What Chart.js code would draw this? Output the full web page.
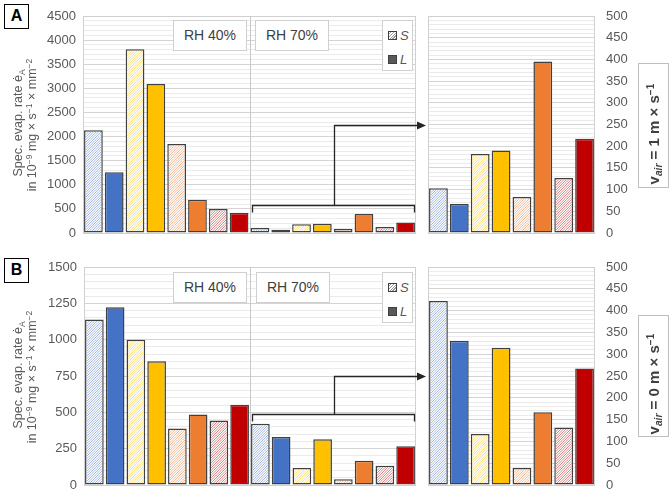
<!DOCTYPE html>
<html>
<head>
<meta charset="utf-8">
<script src="https://cdn.jsdelivr.net/npm/chart.js@4.4.0/dist/chart.umd.min.js"></script>
<style>
  body { margin: 0; background: #fff; font-family: "Liberation Sans", Arial, sans-serif; }
  #blatt { position: relative; width: 669px; height: 495px; overflow: hidden; }
  canvas { position: absolute; }
  .kasten { position: absolute; box-sizing: border-box; background: #fff; }
  .buchstabe { border: 1.5px solid #000; font-weight: bold; font-size: 16px; text-align: center; line-height: 22px; color: #000; }
  .rh { border: 1px solid #d0d0d0; font-size: 14px; color: #404040; text-align: center; line-height: 28px; }
  .legende { border: 1px solid #d0d0d0; font-size: 13px; color: #595959; font-style: italic; }
  .legende div { position: absolute; left: 5px; height: 14px; line-height: 14px; }
  .legende span.sw { display: inline-block; width: 7px; height: 7px; border: 1px solid #404040; margin-right: 3px; vertical-align: 0px; }
  .vair { border: 1px solid #bfbfbf; }
  .dreh { position: absolute; width: 200px; text-align: center; transform: rotate(-90deg); white-space: nowrap; }
  .titel { font-size: 12.5px; color: #595959; height: 16px; line-height: 16px; }
  .vtext { font-size: 15px; font-weight: bold; color: #404040; height: 18px; line-height: 18px; }
  sup, sub { font-size: 0.68em; position: relative; vertical-align: baseline; line-height: 0; }
  sup { top: -0.5em; }
  sub { top: 0.3em; }
</style>
</head>
<body>
<div id="blatt">
  <canvas id="aLinks" width="430" height="245" style="left:0;top:0"></canvas>
  <canvas id="aRechts" width="249" height="245" style="left:420px;top:0"></canvas>
  <canvas id="bLinks" width="430" height="245" style="left:0;top:250px"></canvas>
  <canvas id="bRechts" width="249" height="245" style="left:420px;top:250px"></canvas>

  <!-- Panel A -->
  <div class="kasten buchstabe" style="left:4px;top:4px;width:25px;height:25px">A</div>
  <div class="dreh titel" style="left:-82px;top:115px">Spec. evap. rate ė<sub>A</sub></div>
  <div class="dreh titel" style="left:-68px;top:117px">in 10<sup>−9</sup> mg × s<sup>−1</sup> × mm<sup>−2</sup></div>
  <div class="kasten rh" style="left:173px;top:20px;width:74px;height:31px">RH 40%</div>
  <div class="kasten rh" style="left:255px;top:20px;width:74px;height:31px">RH 70%</div>
  <div class="kasten legende" style="left:382px;top:20px;width:31px;height:51px">
    <div style="top:8px"><span class="sw" style="background:repeating-linear-gradient(135deg,#fff 0 1px,#9a9a9a 1px 2px)"></span>S</div>
    <div style="top:32px"><span class="sw" style="background:#595959"></span>L</div>
  </div>
  <div class="kasten vair" style="left:638px;top:63px;width:31px;height:125px"></div>
  <div class="dreh vtext" style="left:554px;top:125px">v<sub><i>air</i></sub> = 1 m × s<sup>−1</sup></div>

  <!-- Panel B -->
  <div class="kasten buchstabe" style="left:4px;top:258px;width:25px;height:25px">B</div>
  <div class="dreh titel" style="left:-82px;top:367px">Spec. evap. rate ė<sub>A</sub></div>
  <div class="dreh titel" style="left:-68px;top:369px">in 10<sup>−9</sup> mg × s<sup>−1</sup> × mm<sup>−2</sup></div>
  <div class="kasten rh" style="left:173px;top:272px;width:74px;height:31px">RH 40%</div>
  <div class="kasten rh" style="left:256px;top:272px;width:74px;height:31px">RH 70%</div>
  <div class="kasten legende" style="left:382px;top:272px;width:31px;height:51px">
    <div style="top:8px"><span class="sw" style="background:repeating-linear-gradient(135deg,#fff 0 1px,#9a9a9a 1px 2px)"></span>S</div>
    <div style="top:32px"><span class="sw" style="background:#595959"></span>L</div>
  </div>
  <div class="kasten vair" style="left:638px;top:315px;width:31px;height:122px"></div>
  <div class="dreh vtext" style="left:554px;top:375px">v<sub><i>air</i></sub> = 0 m × s<sup>−1</sup></div>
</div>

<script>
// Proben: S = schraffiert, L = gefuellt
var proben = ["S", "L", "S", "L", "S", "L", "S", "L"];
var farben = ["#4472C4", "#4472C4", "#FFC000", "#FFC000", "#ED7D31", "#ED7D31", "#C00000", "#C00000"];
var schraffur = ["#9cb1dc", "#9cb1dc", "#ffdc70", "#ffdc70", "#f4b68e", "#f4b68e", "#d47c7c", "#d47c7c"];

// Panel A (v_air = 1 m/s)
var a40 = [2130, 1260, 3810, 3090, 1845, 690, 500, 420];
var a70 = [103, 67, 182, 190, 83, 395, 127, 217];
// Panel B (v_air = 0 m/s)
var b40 = [1138, 1223, 1000, 852, 389, 485, 444, 552];
var b70 = [422, 331, 117, 315, 39, 167, 132, 267];

// Achsenbeschriftungen
var ticksALinks = [0, 500, 1000, 1500, 2000, 2500, 3000, 3500, 4000, 4500];
var ticksBLinks = [0, 250, 500, 750, 1000, 1250, 1500];
var ticksRechts = [0, 50, 100, 150, 200, 250, 300, 350, 400, 450, 500];

function fuellung(n) {
  var f = [];
  for (var i = 0; i < n; i++) {
    var k = i % 8;
    f.push(proben[k] === "S" ? "#ffffff" : farben[k]);
  }
  return f;
}

// Rahmen, Trennlinie, Schraffur, Klammer und Pfeil
const rahmenPlugin = {
  id: "rahmen",
  beforeDatasetsDraw(chart, args, opts) {
    const ctx = chart.ctx;
    const a = chart.chartArea;
    const x = chart.scales.x;
    ctx.save();
    ctx.strokeStyle = "#d0d0d0";
    ctx.lineWidth = 1;
    ctx.strokeRect(Math.round(a.left) + 0.5, Math.round(a.top) + 0.5, Math.round(a.right - a.left) - 1, Math.round(a.bottom - a.top));
    if (opts.teiler) {
      const xt = Math.round((x.getPixelForValue(7) + x.getPixelForValue(8)) / 2) + 0.5;
      ctx.strokeStyle = "#c8c8c8";
      ctx.beginPath();
      ctx.moveTo(xt, a.top);
      ctx.lineTo(xt, a.bottom);
      ctx.stroke();
    }
    ctx.restore();
  },
  afterDatasetsDraw(chart, args, opts) {
    const ctx = chart.ctx;
    // Schraffur in die S-Balken zeichnen
    chart.getDatasetMeta(0).data.forEach(function (bar, i) {
      const k = i % 8;
      if (proben[k] !== "S") return;
      const p = bar.getProps(["x", "y", "base", "width"], true);
      const l = p.x - p.width / 2 + 1.5;
      const r = p.x + p.width / 2 - 1.5;
      const t = Math.min(p.y, p.base) + 1.5;
      const b = Math.max(p.y, p.base) - 1.5;
      if (b <= t) return;
      ctx.save();
      ctx.beginPath();
      ctx.rect(l, t, r - l, b - t);
      ctx.clip();
      ctx.strokeStyle = schraffur[k];
      ctx.lineWidth = 0.9;
      ctx.beginPath();
      for (let s = Math.floor(l - (b - t)); s < r + 1; s += 2.5) {
        ctx.moveTo(s, b + 1);
        ctx.lineTo(s + (b - t) + 2, t - 1);
      }
      ctx.stroke();
      ctx.restore();
    });

    if (opts.klammer == null) return;
    const x = chart.scales.x;
    const y = chart.scales.y;
    const cw = x.getPixelForValue(1) - x.getPixelForValue(0);
    const x1 = Math.round(x.getPixelForValue(8) - cw / 2 + 2) + 0.5;
    const x2 = Math.round(x.getPixelForValue(15) + cw / 2 - 2) + 0.5;
    const yk = Math.round(y.getPixelForValue(opts.klammer)) + 0.5;
    const yp = Math.round(y.getPixelForValue(opts.pfeil)) + 0.5;
    const xm = Math.round((x1 + x2) / 2) + 0.5;
    const ende = chart.width - 4;
    ctx.save();
    ctx.strokeStyle = "#262626";
    ctx.fillStyle = "#262626";
    ctx.lineWidth = 1.3;
    ctx.beginPath();
    ctx.moveTo(x1, yk + 7);
    ctx.lineTo(x1, yk);
    ctx.lineTo(x2, yk);
    ctx.lineTo(x2, yk + 7);
    ctx.moveTo(xm, yk);
    ctx.lineTo(xm, yp);
    ctx.lineTo(ende - 8, yp);
    ctx.stroke();
    ctx.beginPath();
    ctx.moveTo(ende, yp);
    ctx.lineTo(ende - 9, yp - 4);
    ctx.lineTo(ende - 9, yp + 4);
    ctx.closePath();
    ctx.fill();
    ctx.restore();
  }
};

function gitterFarbe(haupt) {
  return function (c) {
    if (c.tick.value === 0) return "#bfbfbf";
    return haupt.indexOf(c.tick.value) >= 0 ? "#d4d4d4" : "#ebebeb";
  };
}

function diagramm(id, labels, werte, max, schritt, haupt, seite, padding, achsBreite, extra) {
  new Chart(document.getElementById(id), {
    type: "bar",
    data: {
      labels: labels,
      datasets: [{
        data: werte,
        backgroundColor: fuellung(labels.length),
        borderColor: "#404040",
        borderWidth: 1.5,
        borderSkipped: false,
        barPercentage: 0.9,
        categoryPercentage: 1.0
      }]
    },
    options: {
      responsive: false,
      animation: false,
      layout: { padding: padding },
      plugins: {
        legend: { display: false },
        tooltip: { enabled: false },
        rahmen: extra
      },
      scales: {
        x: { display: false },
        y: {
          position: seite,
          min: 0,
          max: max,
          afterFit: function (s) {
            s.width = achsBreite;
            s.paddingTop = 0;
            s.paddingBottom = 0;
          },
          border: { display: false },
          grid: { color: gitterFarbe(haupt), lineWidth: 1, drawTicks: false },
          ticks: {
            stepSize: schritt,
            autoSkip: false,
            padding: seite === "left" ? 7 : 11,
            color: "#595959",
            font: { family: "Liberation Sans", size: 13 },
            callback: function (v) { return haupt.indexOf(v) >= 0 ? v : ""; }
          }
        }
      }
    },
    plugins: [rahmenPlugin]
  });
}

var labels16 = proben.concat(proben);

diagramm("aLinks", labels16, a40.concat(a70), 4500, 100, ticksALinks, "left",
  { left: 0, top: 16, right: 14, bottom: 12 }, 83, { teiler: true, klammer: 580, pfeil: 2240 });
diagramm("aRechts", proben, a70, 500, 10, ticksRechts, "right",
  { left: 8, top: 16, right: 0, bottom: 12 }, 74, {});
diagramm("bLinks", labels16, b40.concat(b70), 1500, 50, ticksBLinks, "left",
  { left: 0, top: 17, right: 14, bottom: 10 }, 84, { teiler: true, klammer: 490, pfeil: 750 });
diagramm("bRechts", proben, b70, 500, 10, ticksRechts, "right",
  { left: 8, top: 17, right: 0, bottom: 10 }, 74, {});
</script>
</body>
</html>
